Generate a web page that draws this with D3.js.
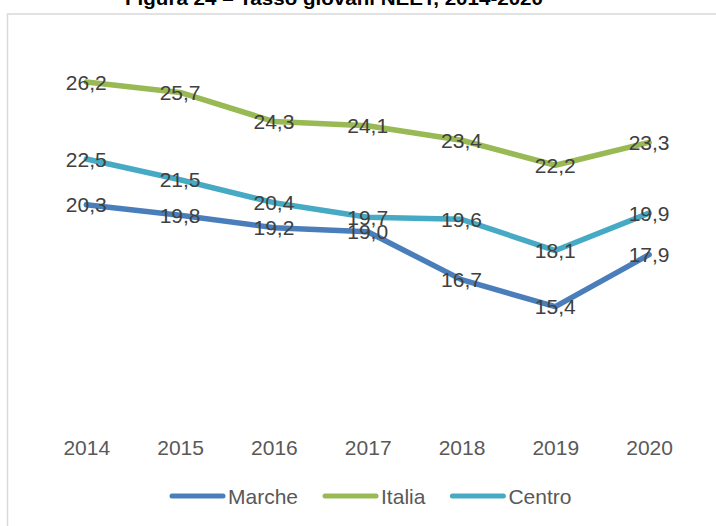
<!DOCTYPE html>
<html>
<head>
<meta charset="utf-8">
<script src="https://cdn.jsdelivr.net/npm/d3@7"></script>
<style>
  html, body { margin: 0; padding: 0; background: #fff; }
  svg { display: block; }
</style>
</head>
<body>
<div id="chart"></div>
<script>
// Tasso giovani NEET, 2014-2020
var years = ["2014", "2015", "2016", "2017", "2018", "2019", "2020"];
var marche = [20.3, 19.8, 19.2, 19.0, 16.7, 15.4, 17.9];
var italia = [26.2, 25.7, 24.3, 24.1, 23.4, 22.2, 23.3];
var centro = [22.5, 21.5, 20.4, 19.7, 19.6, 18.1, 19.9];
var seriesNames = ["Marche", "Italia", "Centro"];

var width = 716;
var height = 526;

var series = [
  { name: seriesNames[0], values: marche, color: "#4a7ebb" },
  { name: seriesNames[1], values: italia, color: "#98b954" },
  { name: seriesNames[2], values: centro, color: "#46aac5" }
];

var svg = d3.select("#chart")
  .append("svg")
  .attr("width", width)
  .attr("height", height);

// Title, mostly cut off at the top of the picture.
svg.append("text")
  .attr("x", 334)
  .attr("y", 5)
  .attr("text-anchor", "middle")
  .attr("font-family", "Liberation Sans, Arial, sans-serif")
  .attr("font-weight", "bold")
  .attr("font-size", 19)
  .attr("textLength", 418)
  .attr("lengthAdjust", "spacingAndGlyphs")
  .attr("fill", "#000")
  .text("Figura 24 – Tasso giovani NEET, 2014-2020");

// Chart area border (runs off the right and bottom edges).
svg.append("rect")
  .attr("x", 7.5)
  .attr("y", 14)
  .attr("width", 720)
  .attr("height", 530)
  .attr("fill", "none")
  .attr("stroke", "#d9d9d9")
  .attr("stroke-width", 1.5);

// Scales. Category points are 93.8px apart starting at 86.3.
var x = d3.scalePoint()
  .domain(years)
  .range([86.3, 649.1]);

var y = d3.scaleLinear()
  .domain([10, 30])
  .range([419, 3]);

// X axis: labels only, no line or ticks.
var xAxis = d3.axisBottom(x).tickSize(0).tickPadding(0);
var gx = svg.append("g")
  .attr("transform", "translate(0,440)")
  .call(xAxis);
gx.select(".domain").remove();
gx.selectAll("text")
  .attr("dy", null)
  .attr("y", 15)
  .attr("font-family", "Liberation Sans, Arial, sans-serif")
  .attr("font-size", 21)
  .attr("fill", "#595959");

var line = d3.line()
  .x(function(d, i) { return x(years[i]); })
  .y(function(d) { return y(d); });

svg.selectAll(".series")
  .data(series)
  .enter()
  .append("path")
  .attr("class", "series")
  .attr("d", function(d) { return line(d.values); })
  .attr("fill", "none")
  .attr("stroke", function(d) { return d.color; })
  .attr("stroke-width", 5.5)
  .attr("stroke-linejoin", "round")
  .attr("stroke-linecap", "round");

// Data labels centred on each point.
var fmt = function(v) { return d3.format(".1f")(v).replace(".", ","); };
series.forEach(function(s) {
  svg.append("g")
    .selectAll("text")
    .data(s.values)
    .enter()
    .append("text")
    .attr("x", function(d, i) { return x(years[i]); })
    .attr("y", function(d) { return y(d); })
    .attr("dy", "0.36em")
    .attr("text-anchor", "middle")
    .attr("font-family", "Liberation Sans, Arial, sans-serif")
    .attr("font-size", 21)
    .attr("fill", "#404040")
    .text(fmt);
});

// Legend.
var legend = svg.append("g").attr("transform", "translate(170,496)");
var lx = 0;
series.forEach(function(s) {
  var item = legend.append("g").attr("transform", "translate(" + lx + ",0)");
  item.append("line")
    .attr("x1", 2).attr("x2", 53)
    .attr("y1", 0).attr("y2", 0)
    .attr("stroke", s.color)
    .attr("stroke-width", 5)
    .attr("stroke-linecap", "round");
  var t = item.append("text")
    .attr("x", 58)
    .attr("y", 8)
    .attr("font-family", "Liberation Sans, Arial, sans-serif")
    .attr("font-size", 21)
    .attr("fill", "#595959")
    .text(s.name);
  lx += 58 + t.node().getComputedTextLength() + 25;
});
</script>
</body>
</html>
